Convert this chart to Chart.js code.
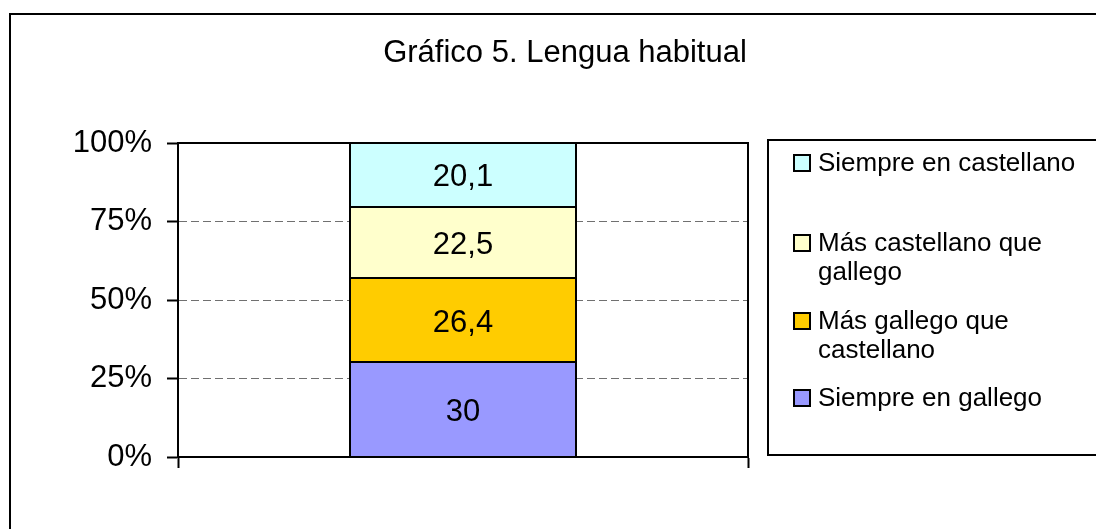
<!DOCTYPE html>
<html>
<head>
<meta charset="utf-8">
<script src="https://cdn.jsdelivr.net/npm/chart.js@4/dist/chart.umd.min.js"></script>
<style>
    html, body { margin: 0; padding: 0; background: #fff; }
    canvas { display: block; }
</style>
</head>
<body>
<canvas id="chart" width="1096" height="529"></canvas>
<script>
// Datos del gráfico
const categories = [''];
const seriesLabels = ['Siempre en gallego', 'Más gallego que castellano', 'Más castellano que gallego', 'Siempre en castellano'];
const seriesValues = [30, 26.4, 22.5, 20.1];
const seriesColors = ['#9999FF', '#FFCC00', '#FFFFCC', '#CCFFFF'];
const titleText = 'Gráfico 5. Lengua habitual';

const FONT = '"Liberation Sans", Arial, sans-serif';

// 100% apilado: cada serie como parte del total
const total = seriesValues.reduce((a, b) => a + b, 0);

const datasets = seriesLabels.map((label, i) => ({
    label: label,
    data: [seriesValues[i] / total * 100],
    rawValue: seriesValues[i],
    backgroundColor: seriesColors[i],
    borderColor: '#000',
    borderWidth: 0,
    inflateAmount: 0,
    barThickness: 228
}));

// Título, bordes, etiquetas de datos y leyenda
const decorPlugin = {
    id: 'decor',
    afterDatasetsDraw(chart) {
        const ctx = chart.ctx;
        const area = chart.chartArea;
        ctx.save();

        // contorno de cada segmento (2 px negro, como en Excel)
        ctx.strokeStyle = '#000';
        ctx.lineWidth = 2;
        chart.data.datasets.forEach((ds, i) => {
            chart.getDatasetMeta(i).data.forEach(bar => {
                const p = bar.getProps(['x', 'y', 'base', 'width'], true);
                const x0 = Math.round(p.x - p.width / 2) + 1;
                const x1 = Math.round(p.x + p.width / 2) - 1;
                const yTop = Math.round(p.y);
                const yBot = Math.round(p.base);
                ctx.strokeRect(x0, yTop, x1 - x0, yBot - yTop);
            });
        });

        // borde del área de trazado
        ctx.strokeRect(area.left, area.top, area.right - area.left, area.bottom - area.top);

        // etiquetas de datos
        ctx.fillStyle = '#000';
        ctx.font = '31px ' + FONT;
        ctx.textAlign = 'center';
        ctx.textBaseline = 'middle';
        chart.data.datasets.forEach((ds, i) => {
            const meta = chart.getDatasetMeta(i);
            meta.data.forEach(bar => {
                const p = bar.getProps(['x', 'y', 'base'], true);
                const txt = String(ds.rawValue).replace('.', ',');
                ctx.fillText(txt, p.x, (p.y + p.base) / 2 + 3);
            });
        });
        ctx.restore();
    },
    afterDraw(chart) {
        const ctx = chart.ctx;
        ctx.save();

        // borde exterior
        ctx.strokeStyle = '#000';
        ctx.lineWidth = 2;
        ctx.strokeRect(10, 14, 1100, 530);

        // título
        ctx.fillStyle = '#000';
        ctx.font = '31px ' + FONT;
        ctx.textAlign = 'center';
        ctx.textBaseline = 'alphabetic';
        ctx.fillText(titleText, 565, 62);

        // leyenda
        ctx.strokeRect(768, 140, 340, 315);
        ctx.font = '26px ' + FONT;
        ctx.textAlign = 'left';
        ctx.textBaseline = 'middle';
        const rowY = [163, 243, 321, 398];
        const lineH = 29;
        const maxW = 265;
        const order = chart.data.datasets.map((d, i) => i).reverse();
        order.forEach((dsIndex, row) => {
            const ds = chart.data.datasets[dsIndex];
            const y = rowY[row];
            ctx.fillStyle = ds.backgroundColor;
            ctx.fillRect(794, y - 8, 16, 16);
            ctx.lineWidth = 2;
            ctx.strokeStyle = '#000';
            ctx.strokeRect(794, y - 8, 16, 16);

            // ajuste de línea del texto
            const words = ds.label.split(' ');
            const lines = [];
            let cur = '';
            words.forEach(w => {
                const test = cur ? cur + ' ' + w : w;
                if (ctx.measureText(test).width > maxW && cur) {
                    lines.push(cur);
                    cur = w;
                } else {
                    cur = test;
                }
            });
            lines.push(cur);
            ctx.fillStyle = '#000';
            lines.forEach((ln, k) => ctx.fillText(ln, 818, y + k * lineH + 1));
        });
        ctx.restore();
    }
};

new Chart(document.getElementById('chart'), {
    type: 'bar',
    data: {
        labels: categories,
        datasets: datasets
    },
    options: {
        responsive: false,
        animation: false,
        layout: {
            padding: { left: 0, top: 143, right: 348, bottom: 61 }
        },
        scales: {
            x: {
                stacked: true,
                offset: true,
                ticks: { display: false },
                grid: {
                    offset: true,
                    drawOnChartArea: false,
                    drawTicks: true,
                    tickLength: 11,
                    tickColor: '#000',
                    tickWidth: 2
                },
                border: { display: true, color: '#000', width: 2 },
                afterFit(scale) { scale.height = 11; }
            },
            y: {
                stacked: true,
                min: 0,
                max: 100,
                ticks: {
                    stepSize: 25,
                    padding: 15,
                    color: '#000',
                    font: { family: FONT, size: 31 },
                    callback: v => v + '%'
                },
                grid: {
                    color: '#707070',
                    lineWidth: 1,
                    drawTicks: true,
                    tickLength: 11,
                    tickColor: '#000',
                    tickWidth: 2,
                    tickBorderDash: []
                },
                border: { display: true, color: '#000', width: 2, dash: [8, 4] },
                afterFit(scale) { scale.width = 178; }
            }
        },
        plugins: {
            legend: { display: false },
            title: { display: false },
            tooltip: { enabled: false }
        }
    },
    plugins: [decorPlugin]
});
</script>
</body>
</html>
